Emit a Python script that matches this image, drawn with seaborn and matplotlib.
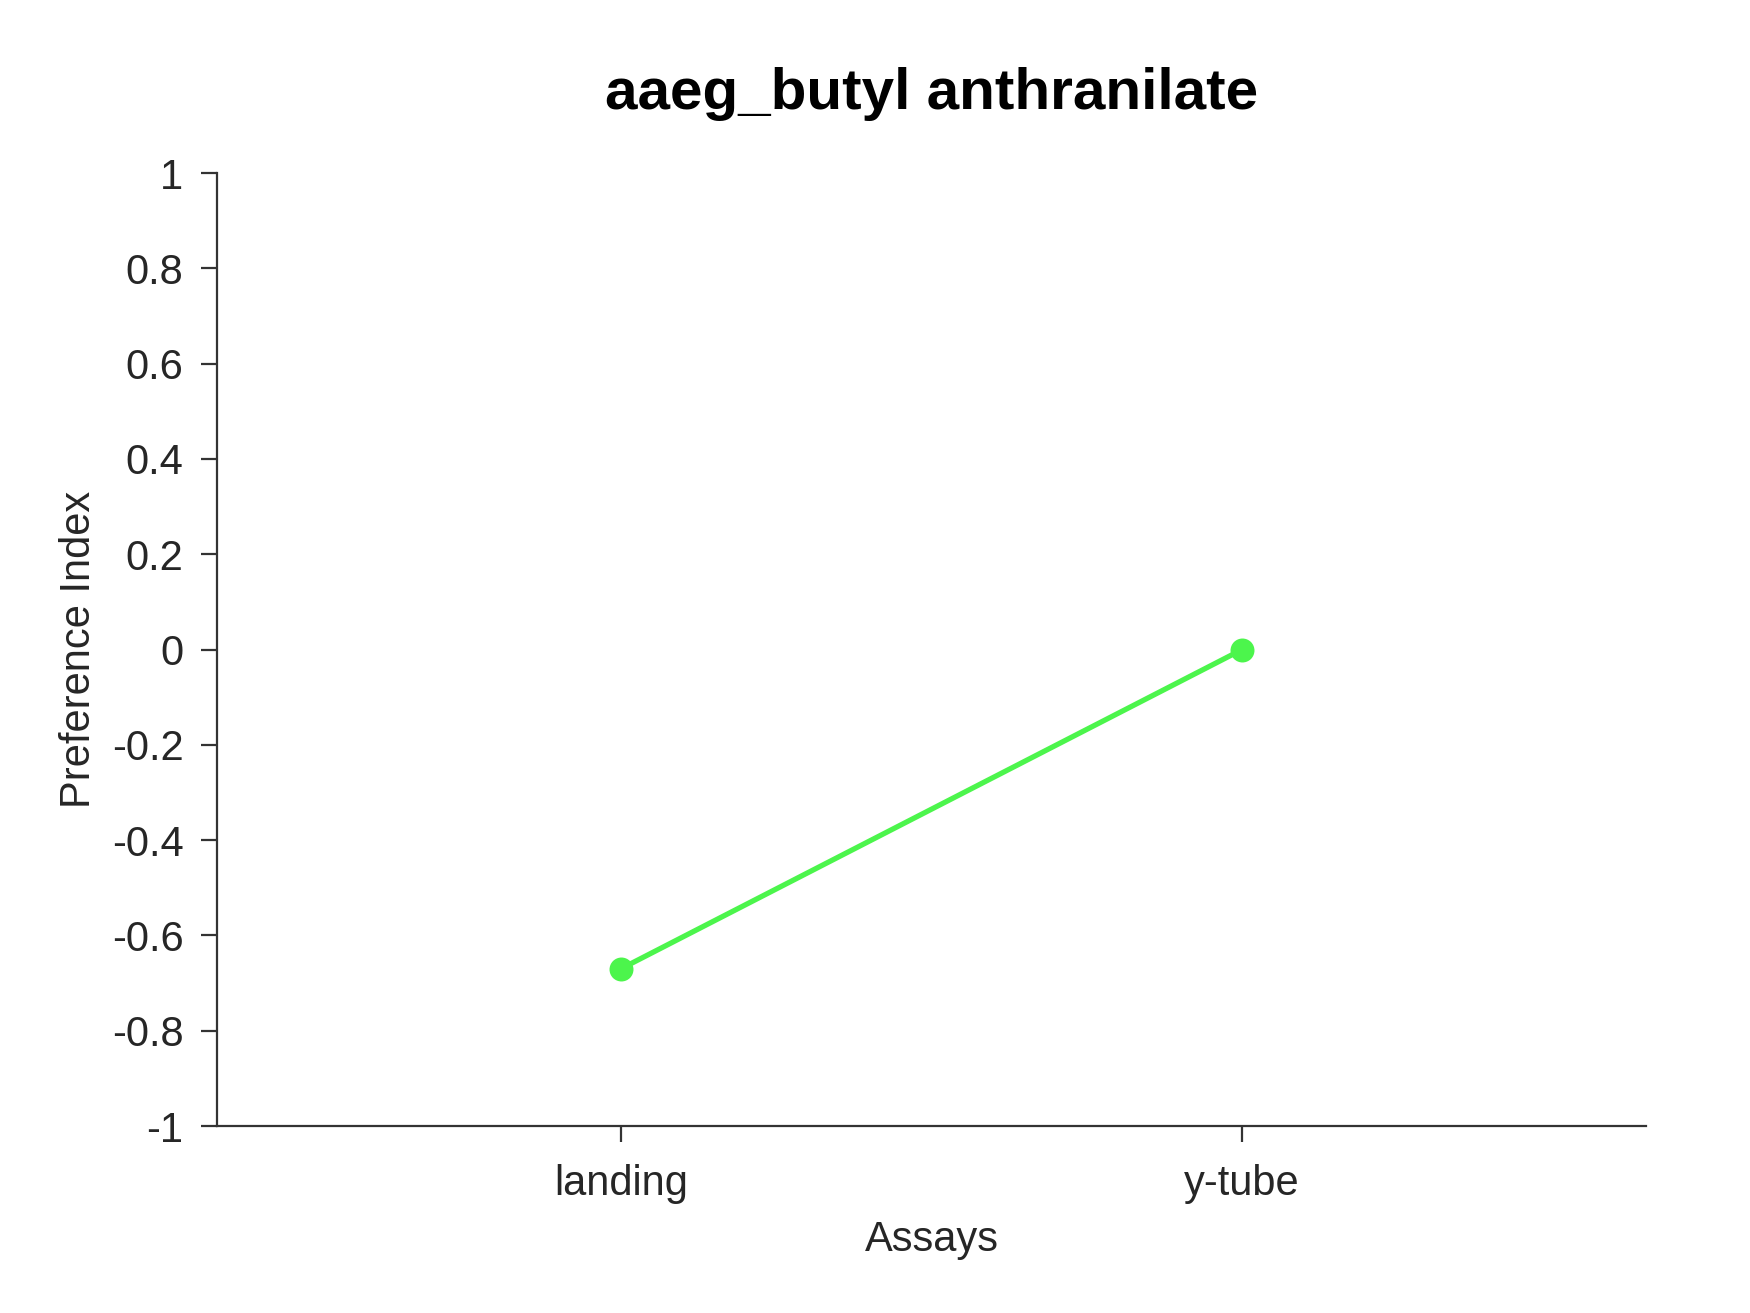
import matplotlib
matplotlib.use("Agg")
import matplotlib.pyplot as plt
import seaborn as sns

assays = ["landing", "y-tube"]
pref_index = [-0.67, 0.0]
y_ticks = [-1, -0.8, -0.6, -0.4, -0.2, 0, 0.2, 0.4, 0.6, 0.8, 1]
y_tick_labels = ["-1", "-0.8", "-0.6", "-0.4", "-0.2", "0", "0.2", "0.4", "0.6", "0.8", "1"]

sns.set_style("white")
plt.rcParams["font.family"] = ["Liberation Sans", "DejaVu Sans"]

fig = plt.figure(figsize=(8.75, 6.565), dpi=200)
ax = fig.add_axes([0.124, 0.1424, 0.8166, 0.7258])

sns.pointplot(x=assays, y=pref_index, color="#4cf54c", markers="o",
              linewidth=1.9, markersize=7.2, ax=ax)

ax.set_xlim(-0.65, 1.65)
ax.set_ylim(-1, 1)
ax.set_yticks(y_ticks)
ax.set_yticklabels(y_tick_labels)

for side in ["top", "right"]:
    ax.spines[side].set_visible(False)
for side in ["left", "bottom"]:
    ax.spines[side].set_color("#333333")
    ax.spines[side].set_linewidth(0.8)

ax.tick_params(axis="both", which="major", bottom=True, left=True,
               direction="out", length=5.8, width=0.8,
               color="#333333", labelcolor="#262626", labelsize=15)
ax.tick_params(axis="y", pad=6.3)
ax.tick_params(axis="x", pad=8)

ax.set_xlabel("Assays", fontsize=15, color="#262626", labelpad=5.5)
ax.set_ylabel("Preference Index", fontsize=15, color="#262626", labelpad=4.5)
ax.set_title("aaeg_butyl anthranilate", fontsize=21, fontweight="bold",
             color="black", pad=23)

fig.savefig("out.png", dpi=200)
